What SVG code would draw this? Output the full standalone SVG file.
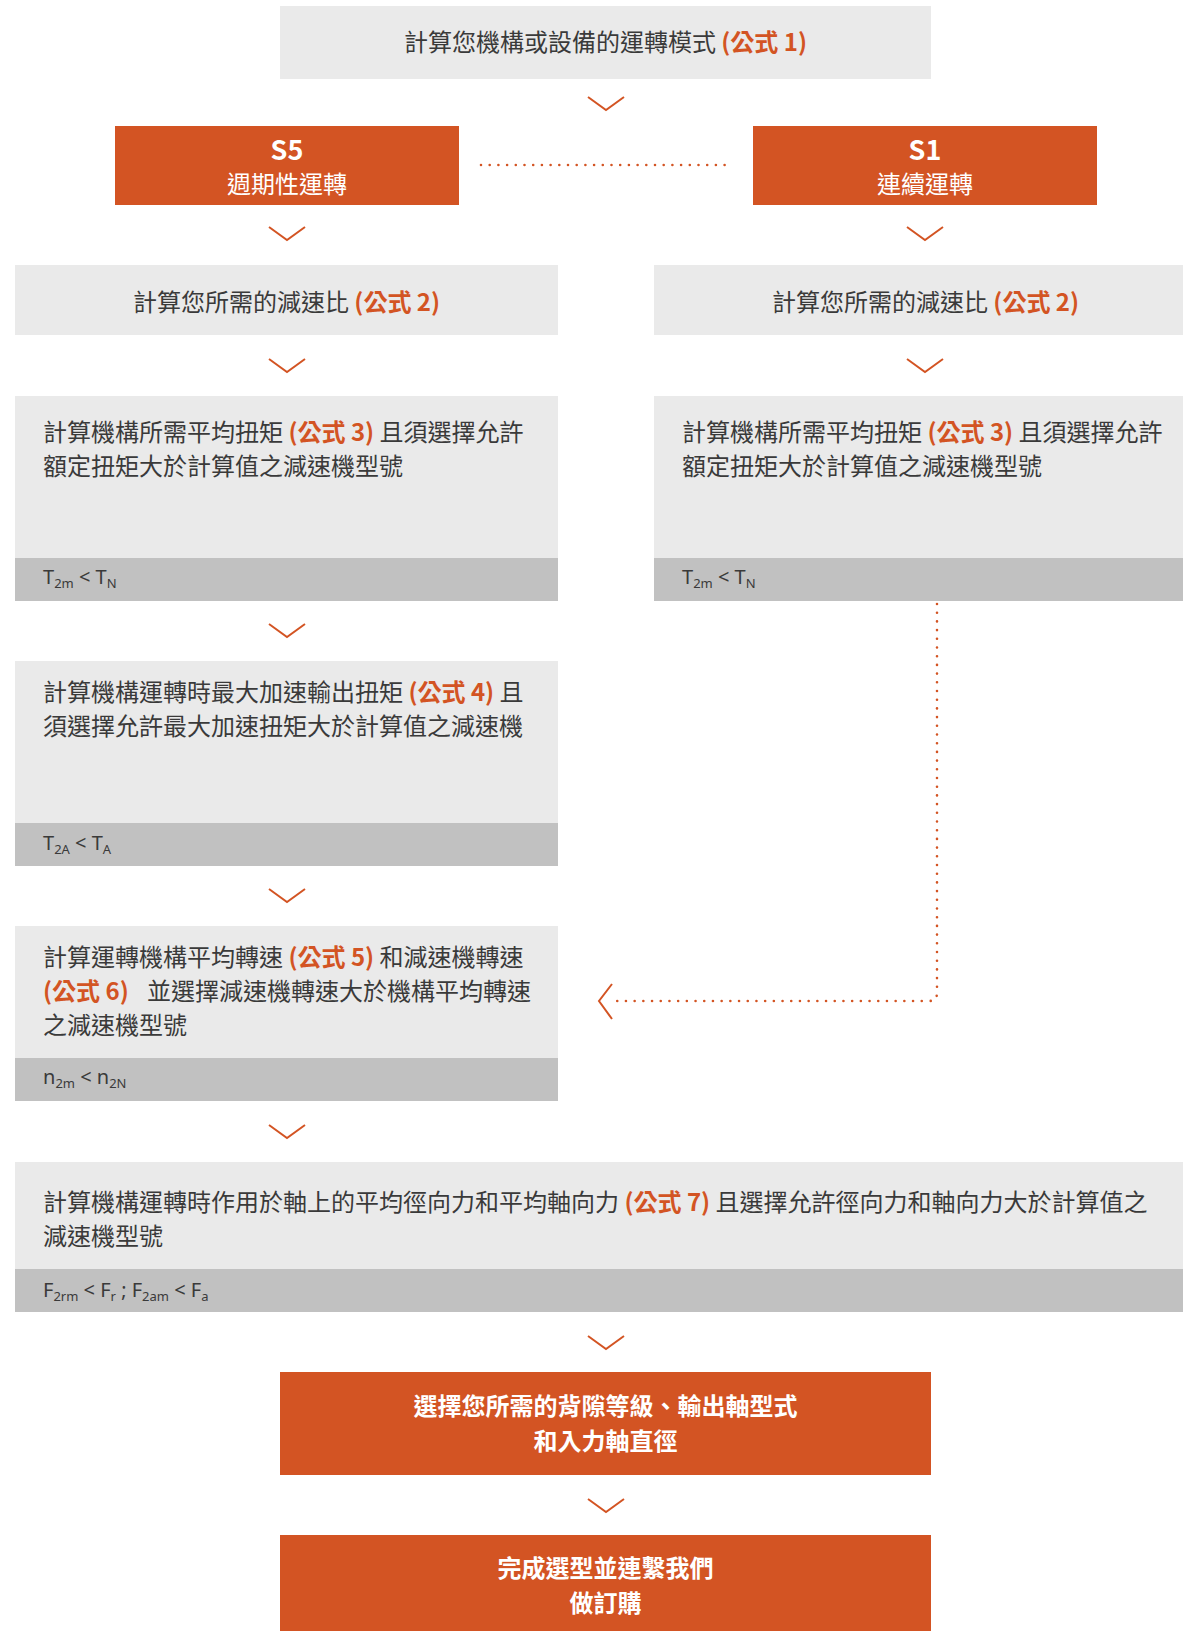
<svg xmlns="http://www.w3.org/2000/svg" width="1183" height="1631" viewBox="0 0 1183 1631">
<style>
.box{fill:#EAEAEA}
.band{fill:#C1C1C1}
.org{fill:#D35423}
.t{font-family:"Noto Sans CJK TC","Noto Sans",sans-serif;font-size:24px;fill:#3A3A3A}
.f{fill:#D35423;font-weight:bold}
.w{font-family:"Noto Sans CJK TC","Noto Sans",sans-serif;font-size:24px;fill:#FFFFFF}
.wb{font-family:"Noto Sans CJK TC","Noto Sans",sans-serif;font-size:24px;fill:#FFFFFF;font-weight:bold}
.s{font-family:"Noto Sans CJK TC","Noto Sans",sans-serif;font-size:27px;fill:#FFFFFF;font-weight:bold}
.m{font-family:"Noto Sans",sans-serif;font-size:20px;fill:#3A3A3A}
.sub{font-size:13px}
.chev{fill:none;stroke:#D35423;stroke-width:2}
.dot{fill:none;stroke:#D35423;stroke-width:2.6;stroke-linecap:round;stroke-dasharray:0 8.7}
</style>
<g id="n1">
<rect class="box" x="280" y="6" width="651" height="73"/>
<text class="t" x="605.5" y="51" text-anchor="middle">計算您機構或設備的運轉模式 <tspan class="f">(公式 1)</tspan></text>
</g>
<g id="s5">
<rect class="org" x="115" y="126" width="344" height="79"/>
<text class="s" x="287" y="160" text-anchor="middle">S5</text>
<text class="w" x="287" y="193" text-anchor="middle">週期性運轉</text>
</g>
<g id="s1">
<rect class="org" x="753" y="126" width="344" height="79"/>
<text class="s" x="925" y="160" text-anchor="middle">S1</text>
<text class="w" x="925" y="193" text-anchor="middle">連續運轉</text>
</g>
<g id="l2">
<rect class="box" x="15" y="265" width="543" height="70"/>
<text class="t" x="286.5" y="311" text-anchor="middle">計算您所需的減速比 <tspan class="f">(公式 2)</tspan></text>
</g>
<g id="r2">
<rect class="box" x="654" y="265" width="543" height="70"/>
<text class="t" x="925.5" y="311" text-anchor="middle">計算您所需的減速比 <tspan class="f">(公式 2)</tspan></text>
</g>
<g id="l3">
<rect class="box" x="15" y="396" width="543" height="205"/>
<rect class="band" x="15" y="558" width="543" height="43"/>
<text class="t" x="43" y="441">計算機構所需平均扭矩 <tspan class="f">(公式 3)</tspan> 且須選擇允許</text>
<text class="t" x="43" y="475">額定扭矩大於計算值之減速機型號</text>
<text class="m" x="43" y="584">T<tspan class="sub" dy="4">2m</tspan><tspan dy="-4"> &lt; T</tspan><tspan class="sub" dy="4">N</tspan></text>
</g>
<g id="r3">
<rect class="box" x="654" y="396" width="543" height="205"/>
<rect class="band" x="654" y="558" width="543" height="43"/>
<text class="t" x="682" y="441">計算機構所需平均扭矩 <tspan class="f">(公式 3)</tspan> 且須選擇允許</text>
<text class="t" x="682" y="475">額定扭矩大於計算值之減速機型號</text>
<text class="m" x="682" y="584">T<tspan class="sub" dy="4">2m</tspan><tspan dy="-4"> &lt; T</tspan><tspan class="sub" dy="4">N</tspan></text>
</g>
<g id="l4">
<rect class="box" x="15" y="661" width="543" height="205"/>
<rect class="band" x="15" y="823" width="543" height="43"/>
<text class="t" x="43" y="701">計算機構運轉時最大加速輸出扭矩 <tspan class="f">(公式 4)</tspan> 且</text>
<text class="t" x="43" y="735">須選擇允許最大加速扭矩大於計算值之減速機</text>
<text class="m" x="43" y="850">T<tspan class="sub" dy="4">2A</tspan><tspan dy="-4"> &lt; T</tspan><tspan class="sub" dy="4">A</tspan></text>
</g>
<g id="l5">
<rect class="box" x="15" y="926" width="543" height="175"/>
<rect class="band" x="15" y="1058" width="543" height="43"/>
<text class="t" x="43" y="966">計算運轉機構平均轉速 <tspan class="f">(公式 5)</tspan> 和減速機轉速</text>
<text class="t" x="43" y="1000"><tspan class="f">(公式 6)</tspan><tspan x="147">並選擇減速機轉速大於機構平均轉速</tspan></text>
<text class="t" x="43" y="1034">之減速機型號</text>
<text class="m" x="43" y="1084">n<tspan class="sub" dy="4">2m</tspan><tspan dy="-4"> &lt; n</tspan><tspan class="sub" dy="4">2N</tspan></text>
</g>
<g id="n7">
<rect class="box" x="15" y="1162" width="1183" height="150"/>
<rect class="band" x="15" y="1269" width="1183" height="43"/>
<text class="t" x="43" y="1211">計算機構運轉時作用於軸上的平均徑向力和平均軸向力 <tspan class="f">(公式 7)</tspan> 且選擇允許徑向力和軸向力大於計算值之</text>
<text class="t" x="43" y="1245">減速機型號</text>
<text class="m" x="43" y="1297">F<tspan class="sub" dy="4">2rm</tspan><tspan dy="-4"> &lt; F</tspan><tspan class="sub" dy="4">r</tspan><tspan dy="-4"> ; F</tspan><tspan class="sub" dy="4">2am</tspan><tspan dy="-4"> &lt; F</tspan><tspan class="sub" dy="4">a</tspan></text>
</g>
<g id="n8">
<rect class="org" x="280" y="1372" width="651" height="103"/>
<text class="wb" x="605.5" y="1415" text-anchor="middle">選擇您所需的背隙等級、輸出軸型式</text>
<text class="wb" x="605.5" y="1450" text-anchor="middle">和入力軸直徑</text>
</g>
<g id="n9">
<rect class="org" x="280" y="1535" width="651" height="100"/>
<text class="wb" x="605.5" y="1577" text-anchor="middle">完成選型並連繫我們</text>
<text class="wb" x="605.5" y="1612" text-anchor="middle">做訂購</text>
</g>
<g id="connectors">
<polyline class="chev" points="588,97 606,110 624,97"/>
<polyline class="chev" points="269,227 287,240 305,227"/>
<polyline class="chev" points="907,227 925,240 943,227"/>
<polyline class="chev" points="269,359 287,372 305,359"/>
<polyline class="chev" points="907,359 925,372 943,359"/>
<polyline class="chev" points="269,624 287,637 305,624"/>
<polyline class="chev" points="269,889 287,902 305,889"/>
<polyline class="chev" points="269,1125 287,1138 305,1125"/>
<polyline class="chev" points="588,1336 606,1349 624,1336"/>
<polyline class="chev" points="588,1499 606,1512 624,1499"/>
<line class="dot" x1="481" y1="165" x2="733" y2="165"/>
<path class="dot" d="M937,604 L937,993 Q937,1001 929,1001 L615,1001"/>
<polyline class="chev" points="612,984 599,1001 612,1019"/>
</g>
</svg>
